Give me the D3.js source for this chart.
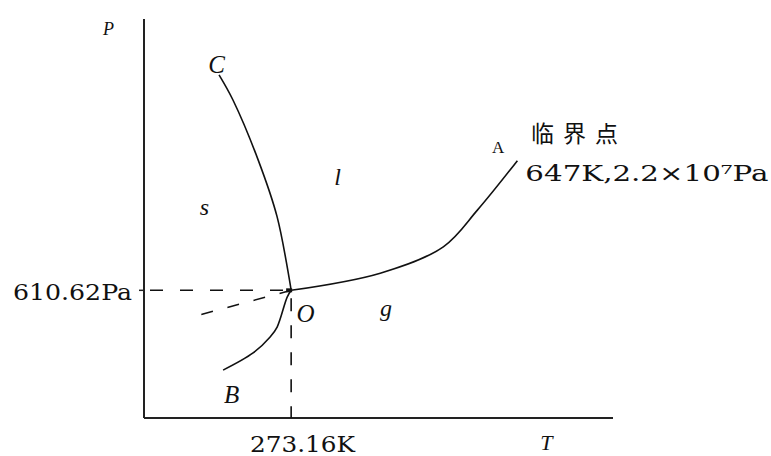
<!DOCTYPE html>
<html>
<head>
<meta charset="utf-8">
<script src="https://cdn.jsdelivr.net/npm/d3@7"></script>
<style>
  body { margin: 0; background: #fff; }
  text { fill: #111; }
</style>
</head>
<body>
<div id="chart"></div>
<script>
// phase diagram of water (schematic), T in K, p in arbitrary units
const tripleT = 273.16, tripleP = 32;
const criticalT = 647;

const curveOC = [[154, 86], [177, 79.7], [218.6, 64.7], [250, 50.4], [273.16, 32]];
const curveOB = [[160.7, 12], [210.3, 16.3], [238.4, 20.3], [250, 22.8], [266.6, 30.3], [273.16, 32]];
const curveOA = [[273.16, 32], [420.4, 36.3], [524.6, 42.9], [580.9, 52.1], [647, 64.5]];
const curveMeta = [[273.16, 32], [116, 25.6]];

const xLabel = "T", yLabel = "P";
const tripleTLabel = "273.16K", triplePLabel = "610.62Pa";
const critLabel = "临界点", critValue = "647K,2.2×10⁷Pa";
const regions = [
  { name: "s", T: 130, p: 51 },
  { name: "l", T: 350, p: 58.5 },
  { name: "g", T: 430, p: 25.5 }
];
const points = [
  { name: "C", T: 150, p: 86.5 },
  { name: "B", T: 175, p: 3.8 },
  { name: "O", T: 297, p: 24 },
  { name: "A", T: 615, p: 66.5 }
];

const width = 771, height = 456;
const svg = d3.select("#chart").append("svg")
  .attr("width", width).attr("height", height);

const x = d3.scaleLinear().domain([30, 805]).range([144, 613]);
const y = d3.scaleLinear().domain([0, 100]).range([418, 19]);

// axes
svg.append("line")
  .attr("x1", x(30)).attr("x2", x(30))
  .attr("y1", y(0)).attr("y2", y(100))
  .attr("stroke", "#222").attr("stroke-width", 2);
svg.append("line")
  .attr("x1", x(30)).attr("x2", x(805))
  .attr("y1", y(0)).attr("y2", y(0))
  .attr("stroke", "#222").attr("stroke-width", 2);

// small tick at triple pressure
svg.append("line")
  .attr("x1", x(30) - 5).attr("x2", x(30))
  .attr("y1", y(tripleP)).attr("y2", y(tripleP))
  .attr("stroke", "#222").attr("stroke-width", 1.5);

// dashed guides
svg.append("line")
  .attr("x1", x(30)).attr("x2", x(tripleT))
  .attr("y1", y(tripleP)).attr("y2", y(tripleP))
  .attr("stroke", "#111").attr("stroke-width", 1.6)
  .attr("stroke-dasharray", "13,17")
  .attr("stroke-dashoffset", -6);
svg.append("line")
  .attr("x1", x(tripleT)).attr("x2", x(tripleT))
  .attr("y1", y(tripleP)).attr("y2", y(0))
  .attr("stroke", "#111").attr("stroke-width", 1.6)
  .attr("stroke-dasharray", "13,14")
  .attr("stroke-dashoffset", -8);

const line = d3.line().x(d => x(d[0])).y(d => y(d[1])).curve(d3.curveCatmullRom.alpha(0.5));

svg.append("path").datum(curveMeta)
  .attr("d", d3.line().x(d => x(d[0])).y(d => y(d[1])))
  .attr("fill", "none").attr("stroke", "#111").attr("stroke-width", 1.5)
  .attr("stroke-dasharray", "12,15");

[curveOC, curveOB, curveOA].forEach(c => {
  svg.append("path").datum(c)
    .attr("d", line)
    .attr("fill", "none").attr("stroke", "#111").attr("stroke-width", 1.6);
});

// triple point marker
svg.append("rect")
  .attr("x", x(tripleT) - 5).attr("y", y(tripleP) - 2)
  .attr("width", 6).attr("height", 4)
  .attr("fill", "#111");

const serif = "'Liberation Serif', 'DejaVu Serif', serif";
const wide = "'DejaVu Serif', 'Liberation Serif', serif";

// axis names
svg.append("text").text(yLabel)
  .attr("x", x(30) - 41).attr("y", 35)
  .style("font-family", serif).style("font-style", "italic").style("font-size", "18px");
svg.append("text").text(xLabel)
  .attr("x", x(tripleT) + 249).attr("y", 450)
  .style("font-family", serif).style("font-style", "italic").style("font-size", "22px");

// region letters
svg.selectAll(".region").data(regions).join("text")
  .attr("class", "region")
  .attr("x", d => x(d.T)).attr("y", d => y(d.p))
  .attr("text-anchor", "middle")
  .style("font-family", serif).style("font-style", "italic").style("font-size", "24px")
  .text(d => d.name);

svg.selectAll(".pt").data(points).join("text")
  .attr("class", "pt")
  .attr("x", d => x(d.T)).attr("y", d => y(d.p))
  .attr("text-anchor", "middle")
  .style("font-family", serif)
  .style("font-style", d => d.name === "A" ? "normal" : "italic")
  .style("font-size", d => d.name === "A" ? "17px" : "25px")
  .text(d => d.name);

// value labels
svg.append("text").text(triplePLabel)
  .attr("x", 13).attr("y", y(tripleP) + 10)
  .attr("textLength", 119).attr("lengthAdjust", "spacingAndGlyphs")
  .style("font-family", wide).style("font-size", "23px");
svg.append("text").text(tripleTLabel)
  .attr("x", 250).attr("y", 452)
  .attr("textLength", 105).attr("lengthAdjust", "spacingAndGlyphs")
  .style("font-family", wide).style("font-size", "23px");

svg.append("text").text(critLabel)
  .attr("x", 531).attr("y", 142)
  .attr("textLength", 87).attr("lengthAdjust", "spacing")
  .style("font-family", "'Noto Sans CJK SC', sans-serif").style("font-size", "23px");
svg.append("text").text(critValue)
  .attr("x", x(criticalT) + 8).attr("y", 181)
  .attr("textLength", 243).attr("lengthAdjust", "spacingAndGlyphs")
  .style("font-family", wide).style("font-size", "22px");
</script>
</body>
</html>
